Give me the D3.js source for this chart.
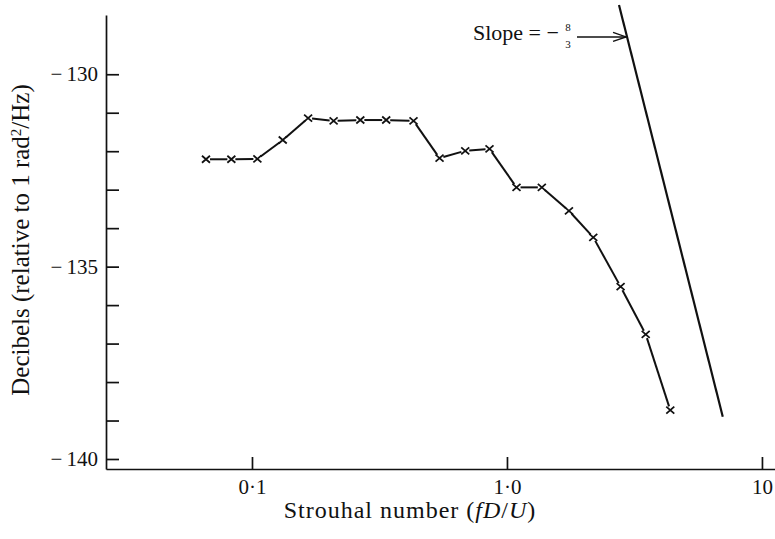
<!DOCTYPE html>
<html>
<head>
<meta charset="utf-8">
<script src="https://cdn.jsdelivr.net/npm/d3@7"></script>
<style>
  body { margin: 0; background: #fff; }
</style>
</head>
<body>
<div id="chart"></div>
<script>
// spectrum points
var strouhal = [0.066, 0.083, 0.105, 0.132, 0.166, 0.209, 0.266, 0.336, 0.43, 0.544,
  0.686, 0.854, 1.09, 1.37, 1.75, 2.18, 2.79, 3.5, 4.37];
var decibels = [-132.21, -132.21, -132.2, -131.71, -131.14, -131.21, -131.19, -131.19, -131.21, -132.18,
  -131.99, -131.94, -132.94, -132.94, -133.55, -134.24, -135.52, -136.76, -138.73];

// reference line of slope -8/3 (two ends)
var slopeX = [2.75, 7.02];
var slopeDb = [-128.2, -138.9];
var arrowDb = -129.03;

var xTicks = [0.1, 1, 10];
var xTickLabels = ["0\u00b71", "1\u00b70", "10"];
var yTicks = [-140, -139, -138, -137, -136, -135, -134, -133, -132, -131, -130];
var yLabelled = [-140, -135, -130];

var W = 775, H = 539;
var FONT = "'Liberation Serif', 'Times New Roman', serif";

var x = d3.scaleLog()
  .domain([0.02676, 11.25])
  .range([106, 775]);

var y = d3.scaleLinear()
  .domain([-140.26, -128.46])
  .range([469, 15]);

var svg = d3.select("#chart")
  .append("svg")
  .attr("width", W)
  .attr("height", H)
  .attr("font-family", FONT);

// axes
var axisY = d3.axisLeft(y)
  .tickValues(yTicks)
  .tickSizeInner(-13)
  .tickSizeOuter(0)
  .tickPadding(8)
  .tickFormat(function(d) {
    return yLabelled.indexOf(d) >= 0 ? "\u2212\u2009" + Math.abs(d) : "";
  });

var gy = svg.append("g")
  .attr("transform", "translate(106,0)")
  .call(axisY);

var axisX = d3.axisBottom(x)
  .tickValues(xTicks)
  .tickSizeInner(-12)
  .tickSizeOuter(0)
  .tickPadding(10)
  .tickFormat(function(d, i) { return xTickLabels[i]; });

var gx = svg.append("g")
  .attr("transform", "translate(0,469)")
  .call(axisX);

[gx, gy].forEach(function(g) {
  g.attr("font-family", FONT).attr("font-size", 21);
  g.selectAll("path, line").attr("stroke", "#111").attr("stroke-width", 1.7);
  g.selectAll("text").attr("fill", "#111");
});

// data line, drawn as segments that stop short of the crosses
var pts = strouhal.map(function(s, i) { return [x(s), y(decibels[i])]; });
var gap = 4;
var segs = d3.pairs(pts).map(function(p) {
  var dx = p[1][0] - p[0][0], dy = p[1][1] - p[0][1];
  var len = Math.sqrt(dx * dx + dy * dy);
  var ux = dx / len, uy = dy / len;
  return [[p[0][0] + ux * gap, p[0][1] + uy * gap], [p[1][0] - ux * gap, p[1][1] - uy * gap]];
});

svg.append("g")
  .selectAll("line")
  .data(segs)
  .join("line")
  .attr("x1", function(d) { return d[0][0]; })
  .attr("y1", function(d) { return d[0][1]; })
  .attr("x2", function(d) { return d[1][0]; })
  .attr("y2", function(d) { return d[1][1]; })
  .attr("stroke", "#111")
  .attr("stroke-width", 2);

svg.append("g")
  .selectAll("path")
  .data(pts)
  .join("path")
  .attr("transform", function(d) { return "translate(" + d[0] + "," + d[1] + ")"; })
  .attr("d", "M-4,-3.5L4,3.5M-4,3.5L4,-3.5")
  .attr("stroke", "#111")
  .attr("stroke-width", 1.8)
  .attr("fill", "none");

// slope line
var slopeLine = d3.line()
  .x(function(d) { return x(d[0]); })
  .y(function(d) { return y(d[1]); });

svg.append("path")
  .datum(slopeX.map(function(s, i) { return [s, slopeDb[i]]; }))
  .attr("fill", "none")
  .attr("stroke", "#111")
  .attr("stroke-width", 2.2)
  .attr("d", slopeLine);

// arrow tip on the slope line (interpolate in log space)
var lx0 = Math.log10(slopeX[0]), lx1 = Math.log10(slopeX[1]);
var t = (arrowDb - slopeDb[0]) / (slopeDb[1] - slopeDb[0]);
var tipX = x(Math.pow(10, lx0 + t * (lx1 - lx0)));
var tipY = y(arrowDb);

svg.append("line")
  .attr("x1", 577).attr("y1", tipY)
  .attr("x2", tipX - 1).attr("y2", tipY)
  .attr("stroke", "#111")
  .attr("stroke-width", 1.4);

svg.append("path")
  .attr("d", "M" + (tipX - 14) + "," + (tipY - 4.5) + "L" + (tipX - 1) + "," + tipY + "L" + (tipX - 14) + "," + (tipY + 4.5))
  .attr("fill", "none")
  .attr("stroke", "#111")
  .attr("stroke-width", 1.4);

var lab = svg.append("g").attr("fill", "#111");
lab.append("text")
  .attr("x", 473)
  .attr("y", tipY + 3)
  .attr("font-size", 22)
  .text("Slope = \u2212");
lab.append("text")
  .attr("x", 568).attr("y", tipY - 6)
  .attr("font-size", 11)
  .attr("text-anchor", "middle")
  .text("8");
lab.append("text")
  .attr("x", 568).attr("y", tipY + 11)
  .attr("font-size", 11)
  .attr("text-anchor", "middle")
  .text("3");

// axis titles
svg.append("text")
  .attr("x", 410)
  .attr("y", 518)
  .attr("text-anchor", "middle")
  .attr("font-size", 24)
  .attr("letter-spacing", 1)
  .attr("fill", "#111")
  .html('Strouhal number (<tspan font-style="italic">fD</tspan>/<tspan font-style="italic">U</tspan>)');

svg.append("text")
  .attr("transform", "translate(29,240) rotate(-90)")
  .attr("text-anchor", "middle")
  .attr("font-size", 25)
  .attr("fill", "#111")
  .html('Decibels (relative to 1 rad<tspan baseline-shift="super" font-size="15">2</tspan>/Hz)');
</script>
</body>
</html>
